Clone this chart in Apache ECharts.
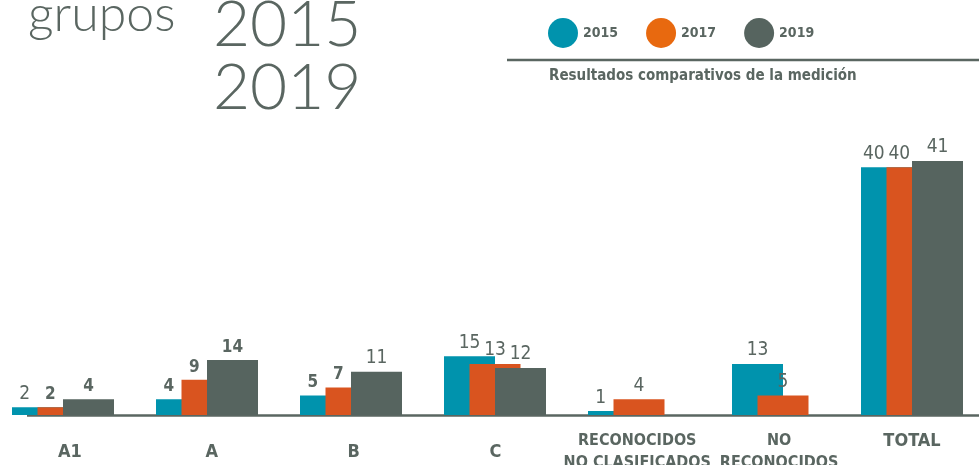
<!DOCTYPE html>
<html><head><meta charset="utf-8">
<script src="https://cdn.jsdelivr.net/npm/echarts@6/dist/echarts.min.js"></script>
<style>html,body{margin:0;padding:0;background:#fff}#c{width:979px;height:465px}</style>
</head><body><div id="c"></div>
<script>
// ---- data ----
const categories = ['A1', 'A', 'B', 'C', 'RECONOCIDOS\nNO CLASIFICADOS', 'NO\nRECONOCIDOS'];
const totalCategory = ['TOTAL'];
const years = ['2015', '2017', '2019'];
const values2015 = [2, 4, 5, 15, 1, 13];
const values2017 = [2, 9, 7, 13, 4, 5];
const values2019 = [4, 14, 11, 12, null, null];
const totals2015 = [40];
const totals2017 = [40];
const totals2019 = [41];

// ---- style ----
const FONT = "'Liberation Sans Narrow','DejaVu Sans Condensed','Roboto',sans-serif";
const TXT = '#5a6661';
const colors = ['#0093ad', '#d9541f', '#56645f'];
const legendColors = ['#0093ad', '#e8690f', '#56645f'];
const boldLabels = { '2017|A1': 1, '2019|A1': 1, '2015|A': 1, '2017|A': 1, '2019|A': 1, '2015|B': 1, '2017|B': 1 };
const BAR_W = 51;

function buildItems(seriesList, k, cats) {
  const cur = seriesList[k], next = seriesList[k + 1];
  return cur.map((v, i) => {
    if (v == null) return '-';
    let dx = 0;
    if (next && next[i] != null && next[i] >= v) dx = -BAR_W / 4;
    const bold = boldLabels[years[k] + '|' + cats[i]];
    return { value: v, label: { offset: [dx, 0], fontWeight: bold ? 'bold' : 'normal', fontSize: bold ? 17 : 19 } };
  });
}

const mainSets = [values2015, values2017, values2019];
const totalSets = [totals2015, totals2017, totals2019];

const series = [];
years.forEach((y, k) => {
  const lab = { show: true, position: 'top', distance: 4, color: TXT, fontFamily: FONT };
  series.push({
    name: y, type: 'bar', xAxisIndex: 0, yAxisIndex: 0,
    barWidth: BAR_W, barGap: '-50%',
    itemStyle: { color: colors[k] }, label: lab,
    data: buildItems(mainSets, k, categories)
  });
  series.push({
    name: y, type: 'bar', xAxisIndex: 2, yAxisIndex: 2,
    barWidth: BAR_W, barGap: '-50%',
    itemStyle: { color: colors[k] }, label: lab,
    data: buildItems(totalSets, k, totalCategory)
  });
});

const hiddenY = (g, max) => ({ type: 'value', gridIndex: g, min: 0, max: max, show: false, splitLine: { show: false } });
const gridBase = { containLabel: false, outerBoundsMode: 'none' };

const option = {
  animation: false,
  backgroundColor: '#fff',
  color: legendColors,
  legend: {
    data: years.map((y, k) => ({ name: y, itemStyle: { color: legendColors[k] } })),
    left: 548, top: 18, padding: 0, icon: 'circle', itemWidth: 30, itemHeight: 30, itemGap: 28,
    textStyle: { color: TXT, fontFamily: FONT, fontWeight: 'bold', fontSize: 14 },
    selectedMode: false
  },
  grid: [
    Object.assign({ left: -9, width: 864, top: 160, bottom: 50 }, gridBase),
    Object.assign({ left: -1, width: 851, top: 160, bottom: 50 }, gridBase),
    Object.assign({ left: 852, width: 120, top: 161, bottom: 50 }, gridBase)
  ],
  xAxis: [
    { type: 'category', gridIndex: 0, data: categories, axisLine: { show: false }, axisTick: { show: false }, axisLabel: { show: false } },
    { type: 'category', gridIndex: 1, data: categories, axisLine: { show: false }, axisTick: { show: false },
      axisLabel: {
        interval: 0, margin: 37, verticalAlign: 'middle', lineHeight: 22, color: TXT, fontFamily: FONT, fontWeight: 'bold', fontSize: 16,
        formatter: v => v.indexOf('\n') < 0 ? '{big|' + v + '}' : v,
        rich: { big: { fontSize: 18, fontWeight: 'bold', fontFamily: FONT, color: TXT } }
      } },
    { type: 'category', gridIndex: 2, data: totalCategory, axisLine: { show: false }, axisTick: { show: false },
      axisLabel: { interval: 0, margin: 26, verticalAlign: 'middle', color: TXT, fontFamily: FONT, fontWeight: 'bold', fontSize: 18 } }
  ],
  yAxis: [hiddenY(0, 65), hiddenY(1, 65), hiddenY(2, 41)],
  series: series,
  graphic: [
    { type: 'text', left: 28, top: -10, style: { text: 'grupos', font: "300 50px Lato, 'DejaVu Sans', sans-serif", fill: TXT } },
    { type: 'text', left: 213, top: -7, style: { text: '2015', font: "300 64px Lato, 'DejaVu Sans', sans-serif", fill: TXT } },
    { type: 'text', left: 213, top: 56, style: { text: '2019', font: "300 64px Lato, 'DejaVu Sans', sans-serif", fill: TXT } },
    { type: 'line', shape: { x1: 507, y1: 60, x2: 979, y2: 60 }, style: { stroke: TXT, lineWidth: 2.5 } },
    { type: 'text', left: 549, top: 69, style: { text: 'Resultados comparativos de la medición', font: "bold 15px " + FONT, fill: TXT } },
    { type: 'line', z: 0, shape: { x1: 27, y1: 415.5, x2: 979, y2: 415.5 }, style: { stroke: TXT, lineWidth: 2.5 } }
  ]
};
echarts.init(document.getElementById('c')).setOption(option);
</script></body></html>
